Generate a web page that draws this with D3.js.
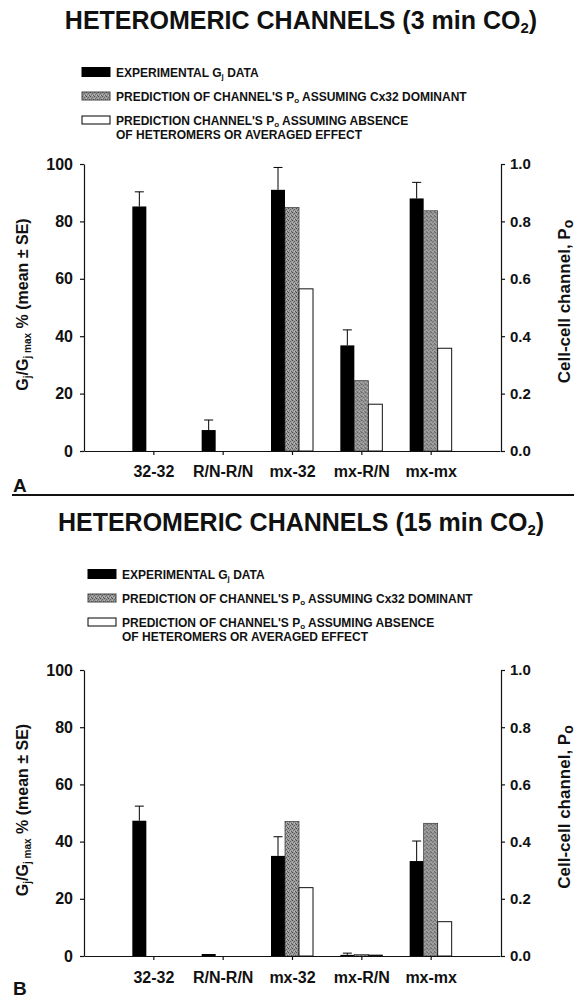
<!DOCTYPE html>
<html>
<head>
<meta charset="utf-8">
<script src="https://cdn.jsdelivr.net/npm/d3@7"></script>
<style>
  body { margin: 0; background: #fff; }
  svg text { font-family: "Liberation Sans", Arial, Helvetica, sans-serif; font-weight: bold; fill: #111; }
  .domain, .tick line { stroke: #111; }
</style>
</head>
<body>
<div id="chart"></div>
<script>
// Data
const categories = ["32-32", "R/N-R/N", "mx-32", "mx-R/N", "mx-mx"];
const series = ["exp", "cx32", "abs"];

// Panel A (3 min CO2): experimental Gj (%) with SE, predictions of Po (0-1)
const expA = [85.2, 7.3, 91.0, 36.8, 88.0];
const errA = [5.1, 3.5, 7.8, 5.4, 5.6];
const cx32A = [0, 0, 0.848, 0.245, 0.837];
const absA = [0, 0, 0.565, 0.163, 0.358];

// Panel B (15 min CO2)
const expB = [47.3, 0.7, 35.0, 0.4, 33.2];
const errB = [5.1, 0, 6.7, 0.6, 7.0];
const cx32B = [0, 0, 0.47, 0.005, 0.464];
const absB = [0, 0, 0.239, 0.003, 0.12];

const leftTicks = [0, 20, 40, 60, 80, 100];
const rightTicks = [0, 0.2, 0.4, 0.6, 0.8, 1.0];

const WIDTH = 584, HEIGHT = 1000;

const svg = d3.select("#chart").append("svg")
  .attr("width", WIDTH)
  .attr("height", HEIGHT);

// stippled grey fill used for the "Cx32 dominant" bars
const defs = svg.append("defs");
const pat = defs.append("pattern")
  .attr("id", "stip")
  .attr("width", 4).attr("height", 4)
  .attr("patternUnits", "userSpaceOnUse");
pat.append("rect").attr("width", 4).attr("height", 4).attr("fill", "#999");
[[0, 0, "#4a4a4a"], [2, 1, "#666"], [1, 2, "#707070"], [3, 3, "#555"], [2, 3, "#bdbdbd"], [0, 2, "#b5b5b5"]]
  .forEach(p => pat.append("rect").attr("x", p[0]).attr("y", p[1])
    .attr("width", 1).attr("height", 1).attr("fill", p[2]));

// helper: text with subscripts, parts = [[text, isSub], ...]
function richText(sel, parts, subSize, shift) {
  parts.forEach(p => {
    const t = sel.append("tspan").text(p[0]);
    if (p[1]) t.attr("baseline-shift", shift).style("font-size", subSize);
  });
  return sel;
}

function drawPanel(cfg) {
  const g = svg.append("g");

  // title
  richText(g.append("text")
    .attr("x", 301).attr("y", cfg.titleY)
    .attr("text-anchor", "middle")
    .style("font-size", "25px"),
    [[cfg.title, false], ["2", true], [")", false]], "15px", "-4px");

  // legend
  const leg = g.append("g").attr("transform", `translate(${cfg.legX},${cfg.legY})`);
  const rows = [
    { fill: "#000", stroke: "#000", h: 9, parts: [["EXPERIMENTAL G", false], ["j", true], [" DATA", false]] },
    { fill: "url(#stip)", stroke: "#444", h: 8, parts: [["PREDICTION OF CHANNEL'S P", false], ["o", true], [" ASSUMING Cx32 DOMINANT", false]] },
    { fill: "#fff", stroke: "#000", h: 8, parts: [[cfg.absText, false], ["o", true], [" ASSUMING ABSENCE", false]] }
  ];
  rows.forEach((r, i) => {
    leg.append("rect")
      .attr("x", 0).attr("y", i * 24 - r.h / 2)
      .attr("width", 28).attr("height", r.h)
      .attr("fill", r.fill).attr("stroke", r.stroke).attr("stroke-width", 1);
    richText(leg.append("text")
      .attr("x", 34).attr("y", i * 24 + 4.5)
      .style("font-size", "12px"), r.parts, "8px", "-2px");
  });
  leg.append("text")
    .attr("x", 34).attr("y", 2 * 24 + 18.5)
    .style("font-size", "12px")
    .text("OF HETEROMERS OR AVERAGED EFFECT");

  // scales
  const x = d3.scalePoint().domain(categories).range([84, 500]).padding(1);
  const sub = d3.scaleBand().domain(series).range([-21, 21]);
  const yL = d3.scaleLinear().domain([0, 100]).range([cfg.y0, cfg.y100]);
  const yR = d3.scaleLinear().domain([0, 1]).range([cfg.y0, cfg.y100]);

  // bars
  const data = categories.map((c, i) => ({
    cat: c, exp: cfg.exp[i], err: cfg.err[i], cx32: cfg.cx32[i], abs: cfg.abs[i]
  }));

  const grp = g.selectAll(".grp").data(data).enter().append("g")
    .attr("transform", d => `translate(${x(d.cat)},0)`);

  grp.append("rect")
    .attr("x", sub("exp")).attr("width", sub.bandwidth())
    .attr("y", d => yL(d.exp)).attr("height", d => cfg.y0 - yL(d.exp))
    .attr("fill", "#000");

  grp.append("rect")
    .attr("x", sub("cx32")).attr("width", sub.bandwidth())
    .attr("y", d => yR(d.cx32)).attr("height", d => cfg.y0 - yR(d.cx32))
    .attr("fill", "url(#stip)").attr("stroke", "#333").attr("stroke-width", 0.7);

  grp.append("rect")
    .attr("x", sub("abs")).attr("width", sub.bandwidth())
    .attr("y", d => yR(d.abs)).attr("height", d => cfg.y0 - yR(d.abs))
    .attr("fill", "#fff").attr("stroke", "#111").attr("stroke-width", 1);

  // upward error bars on experimental data
  const ex = sub("exp") + sub.bandwidth() / 2;
  grp.filter(d => d.err > 0).append("line")
    .attr("x1", ex).attr("x2", ex)
    .attr("y1", d => yL(d.exp)).attr("y2", d => yL(d.exp + d.err))
    .attr("stroke", "#000").attr("stroke-width", 1);
  grp.filter(d => d.err > 0).append("line")
    .attr("x1", ex - 4.5).attr("x2", ex + 4.5)
    .attr("y1", d => yL(d.exp + d.err)).attr("y2", d => yL(d.exp + d.err))
    .attr("stroke", "#000").attr("stroke-width", 1);

  // axes
  g.append("g")
    .attr("transform", `translate(0,${cfg.y0})`)
    .call(d3.axisBottom(x).tickSize(4).tickSizeOuter(0).tickPadding(cfg.xPad))
    .call(a => a.selectAll("text").style("font-size", "16px"));

  g.append("g")
    .attr("transform", "translate(84,0)")
    .call(d3.axisLeft(yL).tickValues(leftTicks).tickSize(4).tickSizeOuter(0).tickPadding(7))
    .call(a => a.selectAll("text").style("font-size", "16px"));

  g.append("g")
    .attr("transform", "translate(501,0)")
    .call(d3.axisRight(yR).tickValues(rightTicks).tickSize(4).tickSizeOuter(0).tickPadding(5)
      .tickFormat(d3.format(".1f")))
    .call(a => a.selectAll("text").style("font-size", "15px"));

  g.selectAll(".tick line, .domain").attr("stroke-width", 1.2);

  // axis titles
  const midY = (cfg.y0 + cfg.y100) / 2;
  richText(g.append("text")
    .attr("transform", `translate(28,${midY - 3}) rotate(-90)`)
    .attr("text-anchor", "middle")
    .style("font-size", "16px"),
    [["G", false], ["j", true], ["/G", false], ["j max", true], [" % (mean \u00b1 SE)", false]], "10px", "-3px");

  richText(g.append("text")
    .attr("transform", `translate(570,${midY - 6}) rotate(-90)`)
    .attr("text-anchor", "middle")
    .style("font-size", "17px"),
    [["Cell-cell channel, P", false], ["o", true]], "14px", "-3px");

  // panel letter
  g.append("text")
    .attr("x", 13).attr("y", cfg.letterY)
    .style("font-size", "19px")
    .text(cfg.letter);
}

drawPanel({
  title: "HETEROMERIC CHANNELS (3 min CO", titleY: 29,
  legX: 82, legY: 72, absText: "PREDICTION CHANNEL'S P",
  y0: 451, y100: 164, xPad: 11,
  exp: expA, err: errA, cx32: cx32A, abs: absA,
  letter: "A", letterY: 492
});

drawPanel({
  title: "HETEROMERIC CHANNELS (15 min CO", titleY: 531,
  legX: 88, legY: 574, absText: "PREDICTION OF CHANNEL'S P",
  y0: 956, y100: 670, xPad: 12,
  exp: expB, err: errB, cx32: cx32B, abs: absB,
  letter: "B", letterY: 995
});

// separator between panels
svg.append("line")
  .attr("x1", 12).attr("x2", 574)
  .attr("y1", 495).attr("y2", 495)
  .attr("stroke", "#111").attr("stroke-width", 2);
</script>
</body>
</html>
